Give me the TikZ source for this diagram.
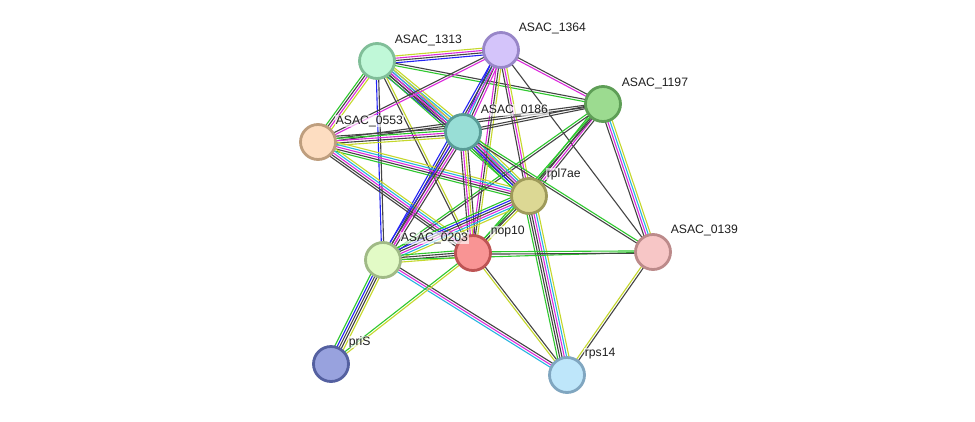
\documentclass[tikz,border=0pt]{standalone}
\usepackage{fontspec}
\setmainfont{Liberation Sans}
\usetikzlibrary{calc}
\pgfdeclarelayer{back}
\pgfdeclarelayer{bg}
\pgfsetlayers{back,bg,main}
\definecolor{sgreen}{HTML}{2EC82E}
\definecolor{sblue}{HTML}{2323F5}
\definecolor{sblack}{HTML}{444444}
\definecolor{smag}{HTML}{DC2ADC}
\definecolor{scyan}{HTML}{27B5E0}
\definecolor{syel}{HTML}{C5D82C}
\tikzset{
  prot/.style={circle, minimum size=35pt, inner sep=0pt, line width=2.8pt},
  plabel/.style={anchor=west, font=\fontsize{12.2}{14}\selectfont, text=black!88,
    fill=white, fill opacity=0.65, text opacity=1, inner sep=0.6pt},
  eline/.style={line width=1.1pt}
}
\newcommand\sedge[3]{%
  \foreach \c [count=\i] in {#3} {\xdef\ncnt{\i}}%
  \foreach \c [count=\i] in {#3} {%
    \pgfmathsetmacro\off{(\i-(\ncnt+1)/2)*2.3}%
    \draw[eline, \c] ($(#1.center)!\off pt!90:(#2.center)$) -- ($(#2.center)!\off pt!-90:(#1.center)$);
  }}
\begin{document}
\begin{tikzpicture}[x=1pt,y=-1pt]
\begin{pgfonlayer}{back}
\fill[white] (0,0) rectangle (975,421);
\end{pgfonlayer}
\useasboundingbox (0,0) rectangle (975,421);
% nodes
\node[prot, fill={rgb,255:red,192;green,248;blue,216}, draw={rgb,255:red,128;green,190;blue,152}] (n1313) at (377,61) {};
\node[prot, fill={rgb,255:red,212;green,196;blue,250}, draw={rgb,255:red,152;green,134;blue,200}] (n1364) at (501,50) {};
\node[prot, fill={rgb,255:red,156;green,219;blue,144}, draw={rgb,255:red,94;green,158;blue,86}] (n1197) at (603,104) {};
\node[prot, fill={rgb,255:red,152;green,222;blue,214}, draw={rgb,255:red,88;green,156;blue,150}] (n0186) at (463,132) {};
\node[prot, fill={rgb,255:red,253;green,221;blue,193}, draw={rgb,255:red,190;green,158;blue,126}] (n0553) at (318,142) {};
\node[prot, fill={rgb,255:red,220;green,216;blue,148}, draw={rgb,255:red,158;green,154;blue,90}] (nrpl) at (529,196) {};
\node[prot, fill={rgb,255:red,226;green,251;blue,198}, draw={rgb,255:red,160;green,186;blue,134}] (n0203) at (383,260) {};
\node[prot, fill={rgb,255:red,249;green,148;blue,148}, draw={rgb,255:red,190;green,84;blue,84}] (nnop) at (473,253) {};
\node[prot, fill={rgb,255:red,247;green,198;blue,198}, draw={rgb,255:red,188;green,138;blue,138}] (n0139) at (653,252) {};
\node[prot, fill={rgb,255:red,152;green,162;blue,222}, draw={rgb,255:red,84;green,96;blue,160}] (npri) at (331,364) {};
\node[prot, fill={rgb,255:red,190;green,230;blue,250}, draw={rgb,255:red,128;green,166;blue,192}] (nrps) at (567,375) {};
% labels
\node[plabel] (l1313) at (394,40) {ASAC\_1313};
\node[plabel] (l1364) at (518,28) {ASAC\_1364};
\node[plabel] (l1197) at (621,83) {ASAC\_1197};
\node[plabel] (l0186) at (480,110) {ASAC\_0186};
\node[plabel] (l0553) at (335,121) {ASAC\_0553};
\node[plabel] (lrpl) at (546,174) {rpl7ae};
\node[plabel] (l0203) at (400,238) {ASAC\_0203};
\node[plabel] (lnop) at (490,232) {nop10};
\node[plabel] (l0139) at (670,230) {ASAC\_0139};
\node[plabel] (lpri) at (348,342) {priS};
\node[plabel] (lrps) at (584,354) {rps14};
% edges
\begin{pgfonlayer}{bg}
\sedge{n1313}{n1364}{sblue,sblack,smag,syel}
\sedge{n1313}{n1197}{sgreen,sblack}
\sedge{n1313}{n0553}{sgreen,sblack,smag,syel}
\sedge{n1313}{n0186}{sblue,sblack,sblack,smag,scyan,syel}
\sedge{n1313}{nrpl}{sgreen,sblack,smag,scyan,syel}
\sedge{n1313}{n0203}{sblue,sblack}
\sedge{n1313}{nnop}{sblack,syel}
\sedge{n1364}{n0553}{sblack,smag}
\sedge{n1364}{n1197}{smag,sblack}
\sedge{n1364}{n0186}{sblue,scyan,sblack,smag}
\sedge{n1364}{nrpl}{sblack,smag,syel}
\sedge{n1364}{nnop}{smag,sblack,syel}
\sedge{n1364}{n0203}{sblue,sblack,smag}
\sedge{n1364}{n0139}{sblack}
\sedge{n1197}{n0186}{sblack,sblack}
\sedge{n1197}{n0553}{sblack,sblack}
\sedge{n1197}{nrpl}{sgreen,sblack,smag,sblack}
\sedge{n1197}{n0203}{sgreen,sblack}
\sedge{n1197}{nnop}{sgreen,sblack}
\sedge{n1197}{n0139}{sblack,smag,scyan,syel}
\sedge{n0553}{n0186}{syel,sblack,smag,sgreen,sblack}
\sedge{n0553}{nrpl}{sgreen,sblack,smag,scyan,syel}
\sedge{n0553}{nnop}{sblack,sblack,smag,scyan,syel}
\sedge{n0186}{nrpl}{sgreen,sblue,sblack,smag,scyan,syel}
\sedge{n0186}{n0203}{sblue,sblack,smag,sblack}
\sedge{n0186}{nnop}{sblack,smag,syel,sblack}
\sedge{n0186}{n0139}{sblack,sgreen}
\sedge{nrpl}{n0203}{sgreen,sblue,sblack,smag,scyan,syel}
\sedge{nrpl}{nnop}{sgreen,sblack,syel}
\sedge{nrpl}{nrps}{sgreen,sblack,sblack,smag,scyan,syel}
\sedge{n0203}{nnop}{syel,sblack,sblack,sgreen}
\sedge{n0203}{n0139}{sgreen}
\sedge{nnop}{n0139}{sblack,sgreen}
\sedge{n0203}{npri}{sgreen,sblue,sblack,sblack,syel}
\sedge{n0203}{nrps}{scyan,smag,sblack}
\sedge{nnop}{npri}{sgreen,syel}
\sedge{nnop}{nrps}{syel,sblack}
\sedge{n0139}{nrps}{syel,sblack}
\end{pgfonlayer}
\end{tikzpicture}
\end{document}
